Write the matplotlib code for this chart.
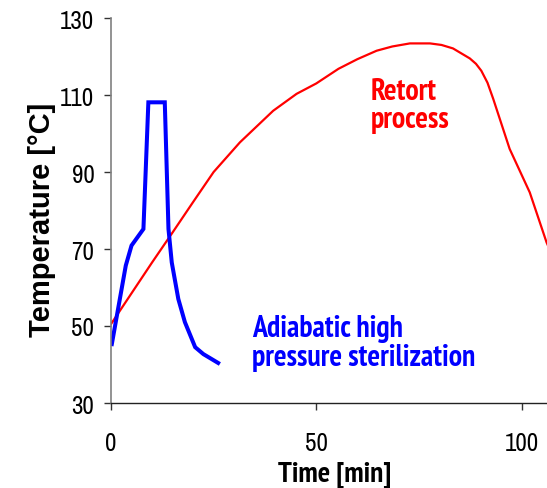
import matplotlib
matplotlib.use("Agg")
import matplotlib.pyplot as plt

# retort process (red)
retort_time = [0, 5, 10, 15, 20, 25, 31.4, 39.5, 45.2, 50, 55.4, 60, 64.7, 68.5, 72.8, 77.7, 80.5,
               83.3, 87.4, 88.9, 90.2, 91.7, 93.1, 97.1, 102, 106.1, 107]
retort_temp = [50.5, 58.5, 66.5, 74.3, 82.2, 90, 97.7, 105.9, 110.3, 113, 116.8, 119.3, 121.5, 122.6, 123.4, 123.4, 123.0,
               122.1, 119.5, 118.1, 116.3, 113.2, 109, 96, 84.7, 71.7, 69.5]

# adiabatic high pressure sterilization (blue)
hp_time = [0.2, 3.6, 5.0, 7.9, 9.1, 13.1, 14.0, 14.8, 16.4, 18.0, 20.5, 22.5, 26.1]
hp_temp = [45.3, 65.7, 70.9, 75.2, 108.1, 108.1, 75.2, 66.5, 57, 51, 44.5, 42.7, 40.4]

x_ticks = [0, 50, 100]
y_ticks = [30, 50, 70, 90, 110, 130]

NARROW = ["Archivo Narrow", "Liberation Sans"]
NARROW_BOLD = ["PT Sans Narrow", "Fira Sans Condensed", "Liberation Sans"]

fig = plt.figure(figsize=(5.47, 4.89), dpi=100)
ax = fig.add_axes([111 / 547, 1 - 404 / 489, 436 / 547, 385 / 489])

ax.plot(retort_time, retort_temp, color="#ff0000", lw=1.6)
ax.plot(hp_time, hp_temp, color="#0000ff", lw=2.9, solid_joinstyle="miter")

ax.set_xlim(0, 106.2)
ax.set_ylim(30, 130)
ax.set_xticks(x_ticks)
ax.set_yticks(y_ticks)

for side in ["top", "right"]:
    ax.spines[side].set_visible(False)
ax.spines["left"].set_color("#808080")
ax.spines["left"].set_linewidth(1.2)
ax.spines["bottom"].set_color("#222222")
ax.spines["bottom"].set_linewidth(1.0)

ax.tick_params(axis="both", direction="out", length=5, width=1, color="#333333",
               labelsize=18)
ax.tick_params(axis="x", pad=15)
ax.tick_params(axis="y", pad=7)
for lab in ax.get_xticklabels() + ax.get_yticklabels():
    lab.set_family(NARROW)

ax.set_xlabel("Time [min]", fontsize=21, fontweight="bold", family=NARROW_BOLD, va="baseline")
ax.xaxis.set_label_coords(0.514, -0.203)
ax.set_ylabel("Temperature [°C]", fontsize=21, fontweight="bold",
              family="Liberation Sans", va="center")
ax.yaxis.set_label_coords(-0.158, 0.478)

# curve annotations
ax.text(63.3, 114.6, "Retort\nprocess", color="#ff0000", fontsize=21.5, fontweight="bold",
        family=NARROW_BOLD, va="top", ha="left", linespacing=1.0)
ax.text(34.3, 53.1, "Adiabatic high\npressure sterilization", color="#0000ff", fontsize=21.5,
        fontweight="bold", family=NARROW_BOLD, va="top", ha="left", linespacing=1.05)

fig.savefig("out.png", dpi=100)
